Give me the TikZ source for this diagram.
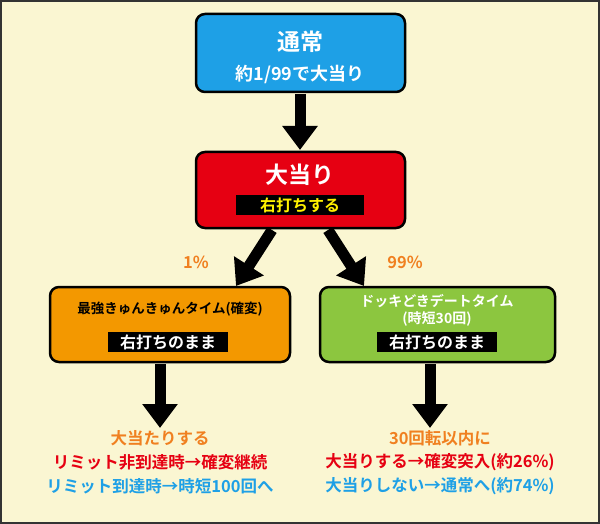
\documentclass[tikz,border=0pt]{standalone}
\usepackage{fontspec}
\setmainfont{Noto Sans CJK JP}[BoldFont={* Bold}]
\usetikzlibrary{arrows.meta}
\definecolor{bg}{HTML}{FAF6D2}
\definecolor{bblue}{HTML}{1EA0E6}
\definecolor{bred}{HTML}{E60012}
\definecolor{borange}{HTML}{F39800}
\definecolor{bgreen}{HTML}{8CC63F}
\definecolor{tor}{HTML}{F08020}
\definecolor{tred}{HTML}{E60012}
\definecolor{tblue}{HTML}{1EA0E6}
\definecolor{tyel}{HTML}{FFF100}
\begin{document}
\begin{tikzpicture}[x=1pt,y=-1pt,font=\bfseries,
 box/.style={draw=black,line width=2.5pt,rounded corners=9pt},
 strip/.style={fill=black,inner sep=2pt,font=\bfseries\fontsize{16}{18}\selectfont},
 arr/.style={line width=11pt,-{Triangle[length=24pt,width=34pt]}},
 t/.style={font=\bfseries\fontsize{16.5}{18}\selectfont}]
\fill[bg,draw=black!80,line width=1.5pt] (1,1) rectangle (599,523);
\useasboundingbox (0,0) rectangle (600,524);
\draw[box,fill=bblue] (196,14) rectangle (405,92);
\node[text=white,font=\bfseries\fontsize{23}{25}\selectfont] (n1) at (300,42) {通常};
\node[text=white,font=\bfseries\fontsize{18}{20}\selectfont] (n1b) at (300,74) {約1/99で大当り};
\coordinate (a1) at (300,94);
\coordinate (a1e) at (300,150);
\draw[arr] (a1) -- (a1e);
\draw[box,fill=bred] (196,152) rectangle (405,228);
\node[text=white,font=\bfseries\fontsize{23}{25}\selectfont] (n2) at (300,175) {大当り};
\node[strip,text=tyel,minimum width=128pt] (n2b) at (300,205) {右打ちする};
\coordinate (d1) at (272,230); \coordinate (d1e) at (236,286);
\coordinate (d2) at (328,230); \coordinate (d2e) at (364,286);
\draw[arr] (d1) -- (d1e);
\draw[arr] (d2) -- (d2e);
\node[text=tor,t] (p1) at (196,262) {1\%};
\node[text=tor,t] (p2) at (405,262) {99\%};
\draw[box,fill=borange] (50,287) rectangle (290,362);
\node[font=\bfseries\fontsize{13.5}{15}\selectfont] (n3) at (170,309) {最強きゅんきゅんタイム(確変)};
\node[strip,text=white,minimum width=120pt] (n3b) at (168,342) {右打ちのまま};
\draw[box,fill=bgreen] (320,287) rectangle (555,362);
\node[text=white,font=\bfseries\fontsize{14}{17}\selectfont,align=center] (n4) at (437,310) {ドッキどきデートタイム\\(時短30回)};
\node[strip,text=white,minimum width=120pt] (n4b) at (437,342) {右打ちのまま};
\coordinate (b1) at (160,364); \coordinate (b1e) at (160,428);
\coordinate (b2) at (430,364); \coordinate (b2e) at (430,428);
\draw[arr] (b1) -- (b1e);
\draw[arr] (b2) -- (b2e);
\node[text=tor,t] (l1) at (160,438) {大当たりする};
\node[text=tred,t] (l2) at (160,462) {リミット非到達時→確変継続};
\node[text=tblue,t] (l3) at (160,486) {リミット到達時→時短100回へ};
\node[text=tor,t] (r1) at (440,438) {30回転以内に};
\node[text=tred,t] (r2) at (440,462) {大当りする→確変突入(約26\%)};
\node[text=tblue,t] (r3) at (440,486) {大当りしない→通常へ(約74\%)};
\end{tikzpicture}
\end{document}
